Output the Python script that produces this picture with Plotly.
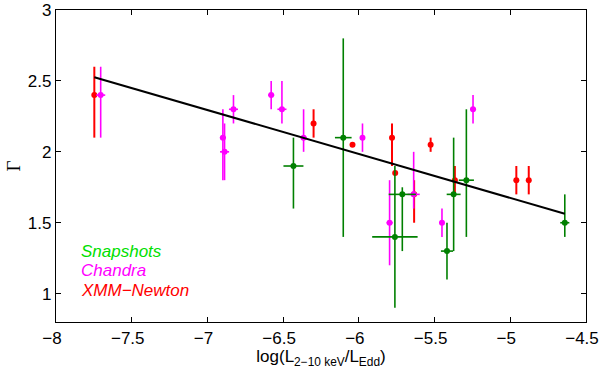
import plotly.graph_objects as go

# Snapshots (dark green points)
snap_x = [-6.432, -6.103, -5.762, -5.713, -5.418, -5.374, -5.290, -4.640]
snap_y = [1.90, 2.10, 1.40, 1.70, 1.30, 1.70, 1.80, 1.50]
snap_ey_hi = [0.20, 0.70, 0.50, 0.05, 0.20, 0.40, 0.50, 0.20]
snap_ey_lo = [0.30, 0.70, 0.50, 0.40, 0.20, 0.40, 0.40, 0.10]
snap_ex = [0.066, 0.055, 0.15, 0.09, 0.04, 0.046, 0.05, 0.03]

# Chandra (magenta)
chan_x = [-7.705, -6.898, -6.887, -6.828, -6.579, -6.508, -6.365, -5.976, -5.797, -5.638, -5.451, -5.246]
chan_y = [2.40, 2.10, 2.00, 2.30, 2.40, 2.30, 2.10, 2.10, 1.50, 1.70, 1.50, 2.30]
chan_ey_hi = [0.20, 0.20, 0.20, 0.10, 0.10, 0.20, 0.20, 0.10, 0.30, 0.30, 0.10, 0.10]
chan_ey_lo = [0.30, 0.30, 0.20, 0.10, 0.10, 0.10, 0.10, 0.10, 0.30, 0.10, 0.10, 0.10]
chan_ex = [0.03, 0.02, 0.03, 0.03, 0.02, 0.03, 0.02, 0.01, 0.02, 0.04, 0.01, 0.02]

# XMM-Newton (red)
xmm_x = [-7.747, -6.299, -6.042, -5.781, -5.760, -5.635, -5.526, -5.366, -4.960, -4.878]
xmm_y = [2.40, 2.20, 2.05, 2.10, 1.85, 1.70, 2.05, 1.80, 1.80, 1.80]
xmm_ey_hi = [0.20, 0.10, 0.0, 0.10, 0.0, 0.10, 0.05, 0.10, 0.10, 0.10]
xmm_ey_lo = [0.30, 0.10, 0.0, 0.20, 0.0, 0.20, 0.05, 0.10, 0.10, 0.10]

# linear fit
fit_x = [-7.747, -4.640]
fit_y = [2.526, 1.563]

x_ticks = [-8, -7.5, -7, -6.5, -6, -5.5, -5, -4.5]
x_labels = ["\u22128", "\u22127.5", "\u22127", "\u22126.5", "\u22126", "\u22125.5", "\u22125", "\u22124.5"]
y_ticks = [1, 1.5, 2, 2.5, 3]
y_labels = ["1", "1.5", "2", "2.5", "3"]

FONT = "Liberation Sans, Arial, sans-serif"


def series(x, y, hi, lo, ex, color, width=1.6):
    return go.Scatter(
        x=x, y=y, mode="markers",
        marker=dict(color=color, size=6),
        error_y=dict(type="data", symmetric=False, array=hi, arrayminus=lo,
                     color=color, thickness=width, width=0),
        error_x=dict(type="data", array=ex, color=color, thickness=width, width=0),
        showlegend=False,
    )


fig = go.Figure()
fig.add_trace(series(xmm_x, xmm_y, xmm_ey_hi, xmm_ey_lo, [0] * len(xmm_x), "#ff0000", 2))
fig.add_trace(series(chan_x, chan_y, chan_ey_hi, chan_ey_lo, chan_ex, "#ff00ff", 1.6))
fig.add_trace(series(snap_x, snap_y, snap_ey_hi, snap_ey_lo, snap_ex, "#008000", 1.6))
fig.add_trace(go.Scatter(x=fit_x, y=fit_y, mode="lines",
                         line=dict(color="black", width=2), showlegend=False))

for label, color, yy in [("Snapshots", "#00e000", 1.30), ("Chandra", "#ff00ff", 1.16),
                         ("XMM\u2212Newton", "#ff0000", 1.02)]:
    fig.add_annotation(x=-7.85, y=yy, text="<i>%s</i>" % label, showarrow=False,
                       xanchor="left", yanchor="middle",
                       font=dict(family=FONT, size=17, color=color))

axis_common = dict(showline=True, linecolor="black", linewidth=1.2, mirror="ticks",
                   ticks="inside", ticklen=5, tickcolor="black", showgrid=False,
                   zeroline=False, automargin=False, ticklabeloverflow="allow",
                   tickfont=dict(family=FONT, size=17, color="black"))

# x labels sit a few pixels left of their ticks in the original
fig.update_xaxes(range=[-8.0001, -4.4999], tickvals=x_ticks, ticktext=x_labels,
                 ticklabelshift=-4,
                 title=dict(text="log(L<sub>2\u221210 keV</sub>/L<sub>Edd</sub>)",
                            font=dict(family=FONT, size=17, color="black"), standoff=2),
                 **axis_common)
fig.update_yaxes(range=[0.8, 3.0001], tickvals=y_ticks, ticktext=y_labels,
                 title=dict(text="\u0393", font=dict(family="Liberation Serif, serif", size=19,
                                                    color="black"), standoff=2),
                 **axis_common)

fig.update_layout(width=600, height=373, margin=dict(l=56, r=14, t=10, b=51),
                  plot_bgcolor="white", paper_bgcolor="white")

fig.write_html("out.html", config={"displayModeBar": False},
               post_script="document.body.style.margin='0';")
